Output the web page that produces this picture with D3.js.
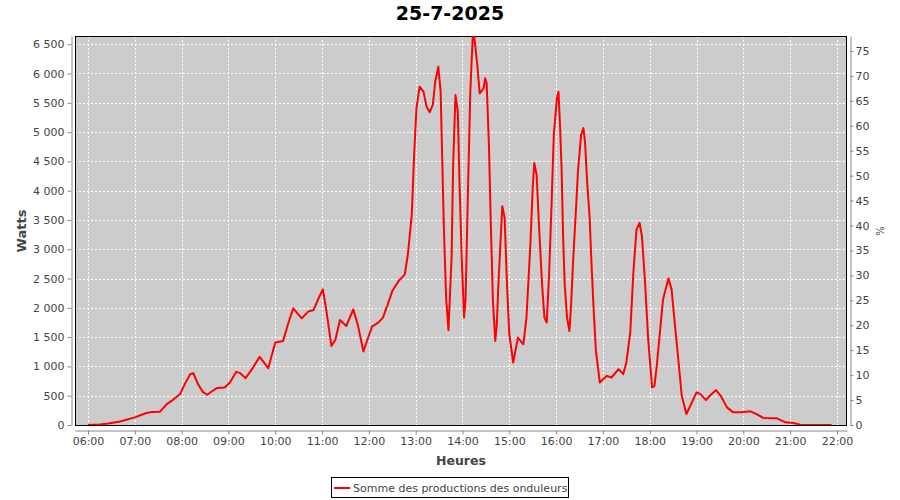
<!DOCTYPE html>
<html>
<head>
<meta charset="utf-8">
<script src="https://cdn.jsdelivr.net/npm/d3@7"></script>
<style>
  html, body { margin: 0; padding: 0; background: #ffffff; }
  svg { display: block; font-family: "DejaVu Sans", sans-serif; }
</style>
</head>
<body>
<svg id="chart" width="900" height="500"></svg>
<script>
// ---- data ----
const title = "25-7-2025";
const seriesName = "Somme des productions des onduleurs";
const times = [
  "06:00","06:15","06:26","06:41","07:00","07:15","07:21","07:32","07:41","07:49",
  "07:58","08:04","08:11","08:15","08:21","08:27","08:33","08:38","08:45","08:55",
  "09:02","09:10","09:15","09:22","09:30","09:40","09:51","10:00","10:10","10:17",
  "10:23","10:34","10:42","10:49","10:55","11:01","11:05","11:12","11:17","11:23",
  "11:31","11:40","11:46","11:53","11:58","12:04","12:12","12:18","12:24","12:30",
  "12:38","12:46","12:50","12:55","12:58","13:01","13:05","13:10","13:14","13:18",
  "13:22","13:25","13:29","13:32","13:34","13:36","13:39","13:42","13:46","13:48",
  "13:51","13:54","13:56","13:59","14:02","14:04","14:07","14:10","14:13","14:15",
  "14:19","14:22","14:27","14:29","14:31","14:34","14:36","14:39","14:42","14:44",
  "14:46","14:49","14:51","14:54","14:57","15:00","15:05","15:11","15:18","15:22",
  "15:27","15:30","15:32","15:35","15:38","15:42","15:45","15:48","15:51","15:54",
  "15:57","16:01","16:03","16:05","16:07","16:09","16:11","16:14","16:17","16:19",
  "16:22","16:26","16:28","16:32","16:35","16:37","16:40","16:43","16:45","16:48",
  "16:51","16:56","17:05","17:11","17:20","17:26","17:30","17:35","17:39","17:43",
  "17:47","17:50","17:54","17:58","18:03","18:06","18:09","18:13","18:17","18:24",
  "18:28","18:32","18:37","18:41","18:47","18:52","19:00","19:05","19:12","19:17",
  "19:25","19:31","19:39","19:47","19:58","20:09","20:15","20:26","20:43","20:54",
  "21:04","21:13","21:53"
];
const watts = [
  0,10,25,60,130,205,220,225,357,430,
  528,698,868,885,698,567,516,567,630,640,
  726,907,885,800,950,1163,970,1407,1435,1750,
  1991,1821,1935,1962,2150,2315,2000,1350,1450,1792,
  1690,1974,1700,1254,1450,1680,1748,1833,2050,2286,
  2456,2570,2910,3591,4612,5407,5775,5690,5434,5339,
  5463,5860,6115,5690,4556,3421,2173,1617,2854,4442,
  5634,5349,4216,2854,1833,2173,3988,5690,6600,6640,
  6144,5662,5747,5917,5832,4726,3591,2115,1435,1719,
  2400,3195,3733,3535,2400,1549,1067,1492,1378,1833,
  3081,4046,4471,4272,3421,2400,1833,1750,2570,3705,
  4953,5577,5690,5123,4386,3195,2400,1833,1605,2003,
  2854,3818,4328,4953,5067,4839,4102,3535,2854,2003,
  1265,727,839,811,953,868,1067,1578,2599,3336,
  3450,3222,2429,1464,642,669,1009,1578,2144,2502,
  2315,1748,1067,499,187,329,556,528,425,499,
  596,499,301,216,216,233,199,119,114,46,
  34,5,0
];
const xTickLabels = ["06:00","07:00","08:00","09:00","10:00","11:00","12:00","13:00",
  "14:00","15:00","16:00","17:00","18:00","19:00","20:00","21:00","22:00"];
const yTicks = [0,500,1000,1500,2000,2500,3000,3500,4000,4500,5000,5500,6000,6500];
const pctTicks = [0,5,10,15,20,25,30,35,40,45,50,55,60,65,70,75];
const xDomainLabels = ["05:43:20","22:12:50"];
const yMax = 6640;
const pctMax = 78;

// ---- helpers ----
function toDate(s) {
  const p = s.split(":").map(Number);
  return new Date(2025, 6, 25, p[0], p[1], p[2] || 0);
}
const data = times.map((t, i) => ({ t: toDate(t), v: watts[i] }));

const svg = d3.select("#chart");
const plot = { left: 75, top: 36, right: 847, bottom: 426 };

const x = d3.scaleTime()
  .domain(xDomainLabels.map(toDate))
  .range([plot.left, plot.right]);
const y = d3.scaleLinear().domain([0, yMax]).range([plot.bottom - 1, plot.top]);
const yPct = d3.scaleLinear().domain([0, pctMax]).range([plot.bottom - 1, plot.top]);

const locale = d3.formatLocale({ decimal: ",", thousands: " ", grouping: [3], currency: ["", " €"] });
const fmtW = locale.format(",d");

// plot background
svg.append("rect")
  .attr("x", plot.left).attr("y", plot.top)
  .attr("width", plot.right - plot.left).attr("height", plot.bottom - plot.top)
  .attr("fill", "#cccccc");

// grid lines
const grid = svg.append("g").attr("stroke", "#ffffff").attr("stroke-width", 1)
  .attr("stroke-dasharray", "2,2").attr("shape-rendering", "crispEdges");
grid.selectAll("line.v").data(xTickLabels.map(toDate)).join("line")
  .attr("class", "v")
  .attr("x1", d => Math.round(x(d)) + 0.5).attr("x2", d => Math.round(x(d)) + 0.5)
  .attr("y1", plot.top).attr("y2", plot.bottom);
grid.selectAll("line.h").data(yTicks.filter(d => d > 0)).join("line")
  .attr("class", "h")
  .attr("y1", d => Math.round(y(d)) + 0.5).attr("y2", d => Math.round(y(d)) + 0.5)
  .attr("x1", plot.left).attr("x2", plot.right);

// plot border
svg.append("rect")
  .attr("x", plot.left + 0.5).attr("y", plot.top + 0.5)
  .attr("width", plot.right - plot.left - 1).attr("height", plot.bottom - plot.top - 1)
  .attr("fill", "none").attr("stroke", "#000000").attr("stroke-width", 1);

// clip for line
svg.append("clipPath").attr("id", "clip").append("rect")
  .attr("x", plot.left + 1).attr("y", plot.top)
  .attr("width", plot.right - plot.left - 2).attr("height", plot.bottom - plot.top - 1);

// series line
const line = d3.line().x(d => x(d.t)).y(d => y(d.v)).curve(d3.curveLinear);
svg.append("path").datum(data)
  .attr("clip-path", "url(#clip)")
  .attr("fill", "none").attr("stroke", "#ff0000").attr("stroke-width", 2)
  .attr("stroke-linejoin", "round")
  .attr("d", line);

// axes
function styleAxis(g) {
  g.selectAll(".domain").attr("stroke", "#888888");
  g.selectAll(".tick line").attr("stroke", "#888888");
  g.selectAll(".tick text").attr("fill", "#444444").style("font-size", "11px")
    .style("font-family", "'DejaVu Sans', sans-serif");
}

const gLeft = svg.append("g").attr("transform", "translate(71.5,0)")
  .call(d3.axisLeft(y).tickValues(yTicks).tickFormat(fmtW).tickSize(4).tickSizeOuter(0).tickPadding(3));
styleAxis(gLeft);

const gBottom = svg.append("g").attr("transform", "translate(0,430.5)")
  .call(d3.axisBottom(x).tickValues(xTickLabels.map(toDate)).tickFormat(d3.timeFormat("%H:%M"))
    .tickSize(4).tickSizeOuter(0).tickPadding(3));
styleAxis(gBottom);

const gRight = svg.append("g").attr("transform", "translate(850.5,0)")
  .call(d3.axisRight(yPct).tickValues(pctTicks).tickSize(3).tickSizeOuter(0).tickPadding(2));
styleAxis(gRight);

// title
svg.append("text")
  .attr("x", 450).attr("y", 20).attr("text-anchor", "middle")
  .style("font-size", "19px").style("font-weight", "bold").attr("fill", "#000000")
  .text(title);

// axis labels
svg.append("text")
  .attr("transform", `translate(26,${(plot.top + plot.bottom) / 2}) rotate(-90)`)
  .attr("text-anchor", "middle")
  .style("font-size", "13px").style("font-weight", "bold").attr("fill", "#444444")
  .text("Watts");
svg.append("text")
  .attr("x", (plot.left + plot.right) / 2).attr("y", 465).attr("text-anchor", "middle")
  .style("font-size", "12.5px").style("font-weight", "bold").attr("fill", "#444444")
  .text("Heures");
svg.append("text")
  .attr("transform", `translate(884,${(plot.top + plot.bottom) / 2}) rotate(-90)`)
  .attr("text-anchor", "middle")
  .style("font-size", "10px").attr("fill", "#444444")
  .text("%");

// legend
const leg = svg.append("g");
leg.append("rect").attr("x", 331.5).attr("y", 477.5).attr("width", 237).attr("height", 20)
  .attr("fill", "#ffffff").attr("stroke", "#000000").attr("stroke-width", 1);
leg.append("line").attr("x1", 334).attr("x2", 350).attr("y1", 488).attr("y2", 488)
  .attr("stroke", "#ff0000").attr("stroke-width", 2);
leg.append("text").attr("x", 353).attr("y", 492)
  .style("font-size", "11px").attr("fill", "#444444")
  .text(seriesName);
</script>
</body>
</html>
